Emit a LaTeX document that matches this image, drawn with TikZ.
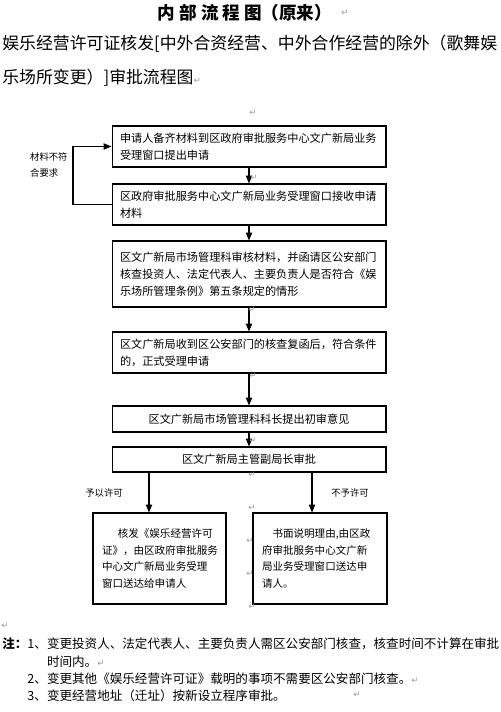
\documentclass[tikz,border=0pt]{standalone}
\usepackage{fontspec}
\setmainfont{Noto Sans CJK SC}
\newfontfamily\markfont{DejaVu Sans}
\usetikzlibrary{arrows.meta}
\definecolor{markgray}{HTML}{9A9A9A}
\newcommand{\retmark}{{\markfont\fontsize{5}{5}\selectfont\color{markgray}↵}}

\begin{document}
\begin{tikzpicture}[x=0.02cm, y=-0.02cm,
    wide/.style={draw, line width=0.6pt, text width=5.16cm, inner xsep=0.16cm, align=left,
                 font=\fontsize{6.35}{9.6}\selectfont},
    bar/.style={draw, line width=0.6pt, minimum width=5.48cm, minimum height=0.5cm, align=center,
                font=\fontsize{6.35}{9.6}\selectfont},
    leaf/.style={draw, line width=0.6pt, minimum height=1.82cm, inner xsep=0.18cm, align=left,
                 font=\fontsize{6}{9.6}\selectfont},
    sub/.style={anchor=base west, inner sep=0, font=\fontsize{9.6}{12}\selectfont},
    note/.style={anchor=base west, inner sep=0, font=\fontsize{7.15}{9.7}\selectfont},
    lbl/.style={font=\fontsize{5.3}{9}\selectfont},
    retm/.style={inner sep=0, text=markgray, font=\markfont\fontsize{5}{5}\selectfont},
    arrow/.style={-{Triangle[length=4.5pt,width=3.6pt]}, line width=0.6pt}
  ]
    \useasboundingbox (0,0) rectangle (500,712);

    \node[anchor=base, font=\fontsize{10}{12}\selectfont\bfseries] (title) at (245,19.7)
      {内 部 流 程 图（原来）};
    \node[sub] (sub1) at (2,49.5) {娱乐经营许可证核发[中外合资经营、中外合作经营的除外（歌舞娱};
    \node[sub] (sub2) at (2,83.5) {乐场所变更）]审批流程图\retmark};

    \node[wide, minimum height=0.82cm] (apply) at (249,146.5)
      {申请人备齐材料到区政府审批服务中心文广新局业务\\受理窗口提出申请};
    \node[wide, minimum height=0.82cm] (receive) at (249,204.5)
      {区政府审批服务中心文广新局业务受理窗口接收申请\\材料};
    \node[wide, minimum height=1.32cm] (review) at (249,274)
      {区文广新局市场管理科审核材料，并函请区公安部门\\
       核查投资人、法定代表人、主要负责人是否符合《娱\\
       乐场所管理条例》第五条规定的情形};
    \node[wide, minimum height=0.82cm] (accept) at (249,352.5)
      {区文广新局收到区公安部门的核查复函后，符合条件\\的，正式受理申请};
    \node[bar, minimum height=0.52cm] (opinion) at (249,419) {区文广新局市场管理科科长提出初审意见};
    \node[bar] (approve) at (249,459.5) {区文广新局主管副局长审批};
    \node[leaf, text width=2.30cm] (grant) at (159.5,558.5)
      {\hspace*{1.5em}核发《娱乐经营许可\\证》，由区政府审批服务\\中心文广新局业务受理\\窗口送达给申请人};
    \node[leaf, text width=2.32cm] (refuse) at (320,558.5)
      {\hspace*{1em}书面说明理由,由区政\\府审批服务中心文广新\\局业务受理窗口送达申\\请人。};

    \coordinate (back) at (73,0);
    \coordinate (yes) at (149,0);
    \coordinate (no) at (312,0);

    \draw[arrow] (apply) -- (receive);
    \draw[arrow] (receive) -- (review);
    \draw[arrow] (review) -- (accept);
    \draw[arrow] (accept) -- (opinion);
    \draw[arrow] (opinion) -- (approve);
    \draw[arrow] (receive.west) -- (receive.west -| back) |- (apply.west);
    \draw[arrow] (approve.south -| yes) -- (grant.north -| yes);
    \draw[arrow] (approve.south -| no) -- (refuse.north -| no);

    \node[lbl, align=left, anchor=west] (mismatch) at (24,165) {材料不符\\合要求};
    \node[lbl] (yeslbl) at (104,493) {予以许可};
    \node[lbl] (nolbl) at (350,493) {不予许可};

    \node[note] (note1) at (2,648)
      {\textbf{注：}1、变更投资人、法定代表人、主要负责人需区公安部门核查，核查时间不计算在审批};
    \node[note] (note2) at (2,666) {\phantom{\textbf{注：}1、}时间内。\retmark};
    \node[note] (note3) at (2,683)
      {\phantom{\textbf{注：}}2、变更其他《娱乐经营许可证》载明的事项不需要区公安部门核查。\retmark};
    \node[note] (note4) at (2,700) {\phantom{\textbf{注：}}3、变更经营地址（迁址）按新设立程序审批。};

    \foreach \x/\y [count=\i] in {345/13, 253/113, 254/178, 252/310, 253/376, 253/441, 252/475,
                                   252/508, 250/541, 250/574, 252/607, 5/626, 357/695}
      \node[retm] (ret\i) at (\x,\y) {↵};
\end{tikzpicture}
\end{document}
